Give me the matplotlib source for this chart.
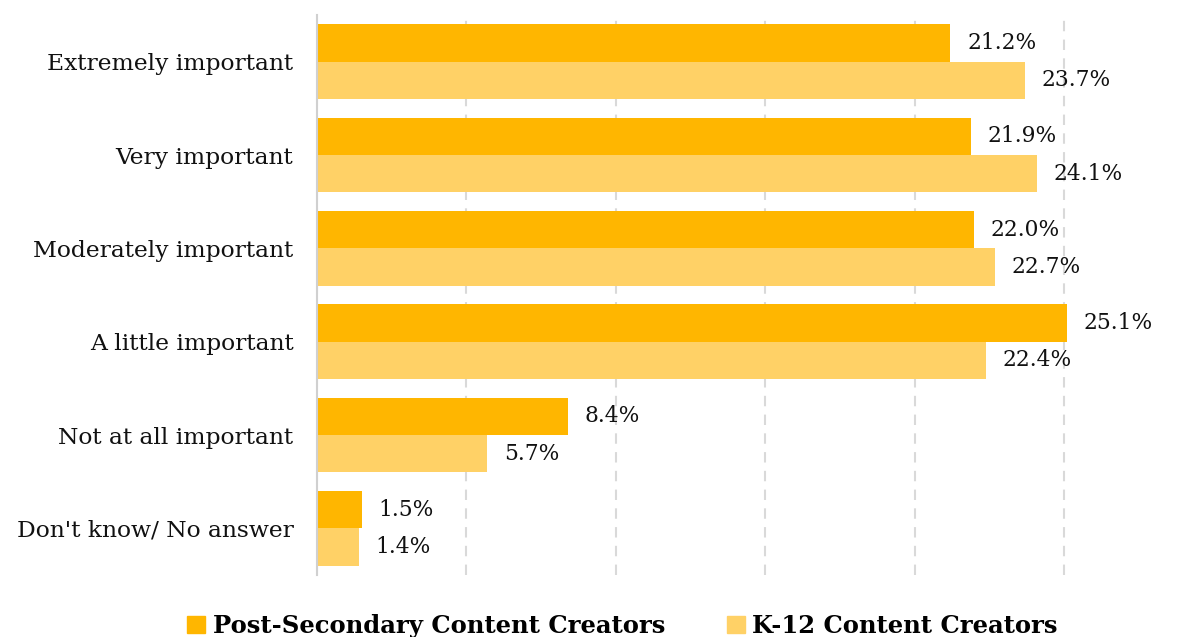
import matplotlib
matplotlib.use("Agg")
import matplotlib.pyplot as plt
from matplotlib.patches import Patch

categories = ["Extremely important", "Very important", "Moderately important",
              "A little important", "Not at all important", "Don't know/ No answer"]
post_secondary = [21.2, 21.9, 22.0, 25.1, 8.4, 1.5]
k12 = [23.7, 24.1, 22.7, 22.4, 5.7, 1.4]
series_names = ["Post-Secondary Content Creators", "K-12 Content Creators"]
colors = ["#FFB600", "#FFD166"]

plt.rcParams['font.family'] = ['DejaVu Serif']

fig = plt.figure(figsize=(12.04, 6.37), dpi=100)
ax = fig.add_axes([317/1204, 1-575/637, (1066-317)/1204, (575-15)/637])

y = list(range(len(categories)))
h = 0.4
yp = [v - h/2 for v in y]
yk = [v + h/2 for v in y]
ax.barh(yp, post_secondary, height=h, color=colors[0], zorder=3, clip_on=False)
ax.barh(yk, k12, height=h, color=colors[1], zorder=3, clip_on=False)

for yy, v in zip(yp, post_secondary):
    ax.annotate(f"{v:.1f}%", (v, yy), xytext=(12, 0), textcoords="offset points",
                va="center", ha="left", fontsize=15.7, color="#111111",
                annotation_clip=False)
for yy, v in zip(yk, k12):
    ax.annotate(f"{v:.1f}%", (v, yy), xytext=(12, 0), textcoords="offset points",
                va="center", ha="left", fontsize=15.7, color="#111111",
                annotation_clip=False)

ax.set_ylim(len(categories) - 0.5, -0.5)
ax.set_xlim(0, 25.07)
ax.set_xticks([0, 5, 10, 15, 20, 25])
ax.set_xticklabels([])
ax.tick_params(axis="x", length=0)
ax.set_yticks(y)
ax.set_yticklabels(categories, fontsize=16.8, color="#111111")
ax.tick_params(axis="y", length=0, pad=17)
ax.grid(axis="x", color="#D9D9D9", linestyle=(0, (5, 4)), linewidth=1.5, zorder=0)
for s in ["top", "right", "bottom"]:
    ax.spines[s].set_visible(False)
ax.spines["left"].set_color("#D0D0D0")
ax.spines["left"].set_linewidth(1.5)
ax.spines["left"].set_zorder(4)

handles = [Patch(color=c) for c in colors]
leg = fig.legend(handles, series_names, loc="center", bbox_to_anchor=(0.517, 1-626/637),
                 ncol=2, frameon=False, handlelength=0.75, handleheight=0.75,
                 handletextpad=0.3, columnspacing=2.55,
                 prop={"family": "DejaVu Serif", "weight": "bold", "size": 17.5})

fig.savefig("out.png", dpi=100)
